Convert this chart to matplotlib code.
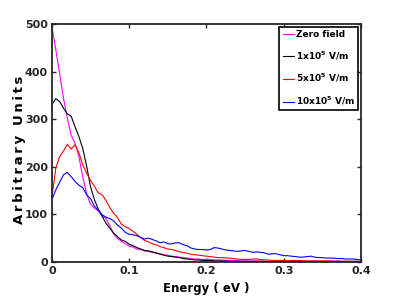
import matplotlib
matplotlib.use('Agg')
import matplotlib.pyplot as plt

# Energy grid (eV), 0 to 0.4 in 0.005 steps
energy = [0.000, 0.005, 0.010, 0.015, 0.020, 0.025, 0.030, 0.035, 0.040, 0.045,
          0.050, 0.055, 0.060, 0.065, 0.070, 0.075, 0.080, 0.085, 0.090, 0.095,
          0.100, 0.105, 0.110, 0.115, 0.120, 0.125, 0.130, 0.135, 0.140, 0.145,
          0.150, 0.155, 0.160, 0.165, 0.170, 0.175, 0.180, 0.185, 0.190, 0.195,
          0.200, 0.205, 0.210, 0.215, 0.220, 0.225, 0.230, 0.235, 0.240, 0.245,
          0.250, 0.255, 0.260, 0.265, 0.270, 0.275, 0.280, 0.285, 0.290, 0.295,
          0.300, 0.305, 0.310, 0.315, 0.320, 0.325, 0.330, 0.335, 0.340, 0.345,
          0.350, 0.355, 0.360, 0.365, 0.370, 0.375, 0.380, 0.385, 0.390, 0.395,
          0.400]

zero_field = [495, 447, 396, 344, 302, 266, 249, 221, 178, 143,
              121, 113, 107, 97, 91, 75, 59, 49, 43, 38,
              33, 31, 27, 26, 23, 22, 20, 18, 17, 15,
              14, 12, 11, 10, 9, 8, 7, 6, 6, 5,
              5, 5, 4, 4, 4, 3, 3, 3, 3, 2,
              2, 2, 2, 2, 2, 1, 1, 1, 1, 1,
              1, 1, 1, 1, 1, 1, 1, 1, 1, 1,
              1, 1, 1, 1, 1, 1, 1, 1, 1, 1,
              1]

field_1e5 = [330, 343, 337, 323, 311, 306, 284, 263, 238, 201,
             158, 131, 111, 96, 81, 71, 60, 53, 46, 43,
             37, 34, 30, 27, 24, 23, 21, 19, 16, 14,
             12, 11, 10, 9, 7, 6, 5, 4, 4, 3,
             3, 3, 2, 2, 2, 2, 1, 1, 1, 1,
             1, 1, 1, 1, 1, 1, 1, 1, 1, 1,
             1, 1, 1, 1, 1, 1, 1, 1, 1, 1,
             1, 1, 1, 1, 1, 1, 1, 1, 1, 1,
             0]

field_5e5 = [135, 196, 221, 233, 247, 237, 246, 229, 204, 186,
             171, 159, 145, 141, 129, 114, 102, 93, 79, 74,
             70, 64, 58, 51, 45, 42, 38, 36, 32, 30,
             27, 26, 24, 21, 20, 18, 16, 15, 14, 13,
             12, 11, 10, 9, 9, 8, 8, 7, 6, 5,
             5, 5, 6, 6, 5, 4, 4, 3, 3, 3,
             3, 2, 3, 3, 3, 2, 2, 2, 2, 2,
             2, 2, 2, 1, 2, 1, 1, 1, 1, 1,
             1]

field_10e5 = [130, 151, 167, 183, 188, 179, 169, 161, 156, 141,
              133, 117, 109, 99, 94, 91, 86, 77, 71, 62,
              58, 57, 55, 51, 48, 50, 47, 44, 40, 42,
              38, 38, 40, 40, 36, 34, 29, 27, 26, 26,
              25, 26, 30, 29, 27, 25, 24, 23, 22, 23,
              24, 22, 20, 21, 20, 19, 16, 17, 17, 15,
              13, 13, 12, 11, 10, 10, 11, 12, 10, 9,
              9, 8, 8, 8, 7, 7, 6, 6, 6, 5,
              4]

labels = ['Zero field', r'1x10$^{\mathbf{5}}$ V/m', r'5x10$^{\mathbf{5}}$ V/m', r'10x10$^{\mathbf{5}}$ V/m']
colors = ['#ff00ff', 'black', 'red', 'blue']

plt.rcParams['font.family'] = 'DejaVu Sans'
plt.rcParams['font.weight'] = 'bold'
plt.rcParams['mathtext.default'] = 'bf'

fig = plt.figure(figsize=(3.99, 3.07), dpi=100)
ax = fig.add_axes([0.130, 0.147, 0.775, 0.775])

for y, lab, c in zip([zero_field, field_1e5, field_5e5, field_10e5], labels, colors):
    ax.plot(energy, y, color=c, lw=0.8, label=lab)

ax.set_xlim(0, 0.4)
ax.set_ylim(0, 500)
ax.set_xticks([0, 0.1, 0.2, 0.3, 0.4])
ax.set_xticklabels(['0', '0.1', '0.2', '0.3', '0.4'])
ax.set_yticks([0, 100, 200, 300, 400, 500])
ax.tick_params(direction='in', top=True, right=True, labelsize=8, length=3, width=1,
               colors='#262626', pad=3)
for s in ax.spines.values():
    s.set_linewidth(1.3)
    s.set_color('#262626')

ax.set_xlabel('Energy ( eV )', fontsize=8.5, fontweight='bold', labelpad=4)
ax.set_ylabel('\u2009'.join('Arbitrary Units'), fontsize=9.5, fontweight='bold')
ax.yaxis.set_label_coords(-0.085, 0.47)

leg = ax.legend(loc='upper right', fontsize=6.5, handlelength=1.3, handletextpad=0.15,
                borderpad=0.35, labelspacing=1.15, borderaxespad=0.3, fancybox=False,
                framealpha=1, edgecolor='black')
leg.get_frame().set_linewidth(1.2)

fig.savefig('out.png', dpi=100)
